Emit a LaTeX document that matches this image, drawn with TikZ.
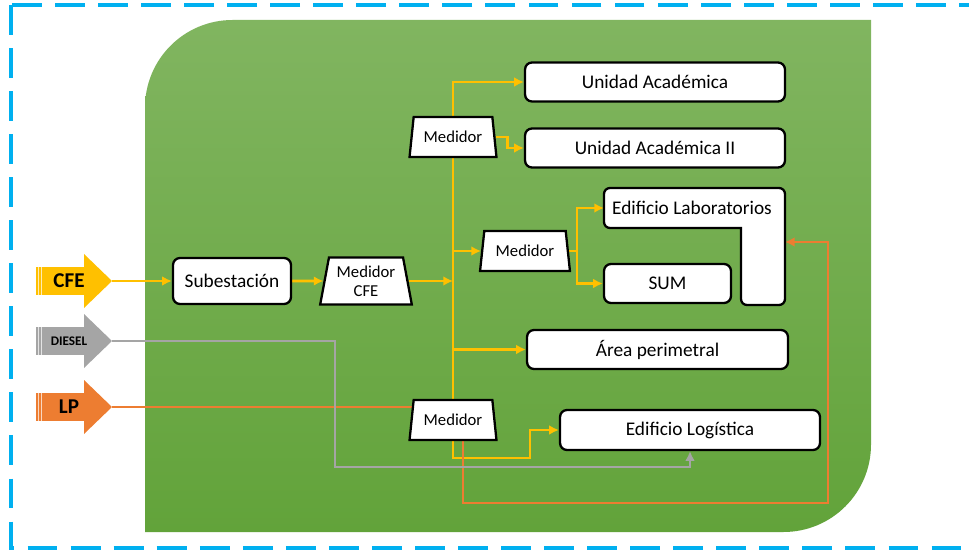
\documentclass[tikz,border=0pt]{standalone}
\usepackage{fontspec}
\setmainfont{Carlito}
\usetikzlibrary{calc,arrows.meta,shapes.geometric}
\definecolor{amarillo}{HTML}{FFC000}
\definecolor{gris}{HTML}{A5A5A5}
\definecolor{naranja}{HTML}{ED7D31}
\definecolor{celeste}{HTML}{00B0F0}
\definecolor{verdeA}{HTML}{81B560}
\definecolor{verdeB}{HTML}{62A33A}
\pgfdeclarelayer{fondo}
\pgfsetlayers{fondo,main}
\tikzstyle{caja} = [rectangle, rounded corners=0.14cm, draw=black, fill=white, line width=1.3pt, minimum height=0.78cm, minimum width=5.2cm, font=\fontsize{11}{13}\selectfont]
\tikzstyle{medidor} = [trapezium, trapezium left angle=78, trapezium right angle=78, trapezium stretches, draw=black, fill=white, line width=1.3pt, minimum width=1.74cm, minimum height=0.8cm, inner sep=1pt, align=center, font=\fontsize{9.5}{11}\selectfont]
\tikzstyle{lamarilla} = [draw=amarillo, line width=1.6pt, -{Latex[length=5.5pt,width=5.5pt]}]
\tikzstyle{lgris} = [draw=gris, line width=1.3pt, -{Latex[length=5.5pt,width=5.5pt]}]
\tikzstyle{lnaranja} = [draw=naranja, line width=1.3pt, -{Latex[length=5.5pt,width=5.5pt]}]
% flecha de fuente: nombre, y, color, texto, letra
\newcommand{\fuente}[5]{%
    \fill[#3] (36,#2-14) rectangle (86,#2+14);
    \fill[#3] (84,#2-27) -- (112,#2) -- (84,#2+27) -- cycle;
    \draw[white, opacity=0.7, line width=0.5pt] (38.5,#2-14) -- (38.5,#2+14) (41,#2-14) -- (41,#2+14);
    \node (#1txt) [font=#5] at (69,#2) {#4};
    \coordinate (#1) at (112,#2);
}

\begin{document}
\begin{tikzpicture}[x=0.02cm, y=-0.02cm]

    \clip (0,0) rectangle (969,550);
    \draw[celeste, line width=2.3pt, dash pattern=on 17pt off 7.5pt] (11,5) rectangle (990,548);

    \begin{pgfonlayer}{fondo}
        \shade[top color=verdeA, bottom color=verdeB] (145,532) -- (145,300) [rounded corners=1.75cm] -- (145,20) -- (500,20) [sharp corners] -- (871,20) -- (871,300) [rounded corners=1.75cm] -- (871,532) -- (500,532) [sharp corners] -- (145,532) -- cycle;
    \end{pgfonlayer}

    \fuente{cfe}{281}{amarillo}{CFE}{\bfseries\fontsize{12}{14}\selectfont}
    \fuente{diesel}{341}{gris}{DIESEL}{\bfseries\fontsize{7.5}{9}\selectfont}
    \fuente{lp}{407}{naranja}{LP}{\bfseries\fontsize{12}{14}\selectfont}

    \node (sub) [caja, minimum width=2.36cm, minimum height=0.92cm] at (232,281) {Subestación};
    \node (mcfe) [medidor, minimum width=1.84cm, minimum height=0.94cm] at (366,281) {Medidor\\CFE};

    \node (m1) [medidor] at (453,137) {Medidor};
    \node (m2) [medidor, minimum width=1.8cm] at (525,251) {Medidor};
    \node (m3) [medidor] at (453,420) {Medidor};

    \node (ua) [caja] at (655,82) {Unidad Académica};
    \node (ua2) [caja] at (655,148) {Unidad Académica II};

    \draw[line width=1.3pt, fill=white, rounded corners=0.12cm] (604,188) -- (785,188) -- (785,305) -- (741,305) [sharp corners] -- (741,228) [rounded corners=0.12cm] -- (604,228) -- cycle;
    \node (lab) [font=\fontsize{11}{13}\selectfont] at (692,208) {Edificio Laboratorios};
    \coordinate (labw) at (604,208);
    \coordinate (labe) at (785,242);

    \node (sum) [caja, minimum width=2.54cm] at (667.5,283.5) {SUM};
    \node (area) [caja, minimum width=5.22cm] at (657.5,349.5) {Área perimetral};
    \node (log) [caja, minimum height=0.8cm] at (690,430) {Edificio Logística};

    \begin{pgfonlayer}{fondo}
        \draw[lamarilla] (cfe) -- (sub);
        \draw[lamarilla] (sub) -- (mcfe);
        \draw[lamarilla] (mcfe.east) -- (mcfe.east -| m1.south);
        \draw[lamarilla, -] (m1.south) -- (m3.north);
        \draw[lamarilla] (m1.north) |- (ua.west);
        \draw[lamarilla] (m1.east) -- ++(12,0) |- (ua2.west);
        \draw[lamarilla] (m1.south |- m2.west) -- (m2.west);
        \draw[lamarilla] (m1.south |- area.west) -- (area.west);
        \draw[lamarilla, -] (m2.east) -- ++(8,0) coordinate (m2r);
        \draw[lamarilla] (m2r) |- (labw);
        \draw[lamarilla] (m2r) |- (sum.west);
        \draw[lamarilla] (m3.center) |- (530,458) |- (log.west);

        \draw[lnaranja, -] (lp) -- (lp -| m3.center);
        \draw[lnaranja] ($(m3.center)+(10,0)$) |- (828,503) |- (labe);

        \draw[lgris] (diesel) -| (335,467) -| (log.south);
    \end{pgfonlayer}

\end{tikzpicture}
\end{document}
